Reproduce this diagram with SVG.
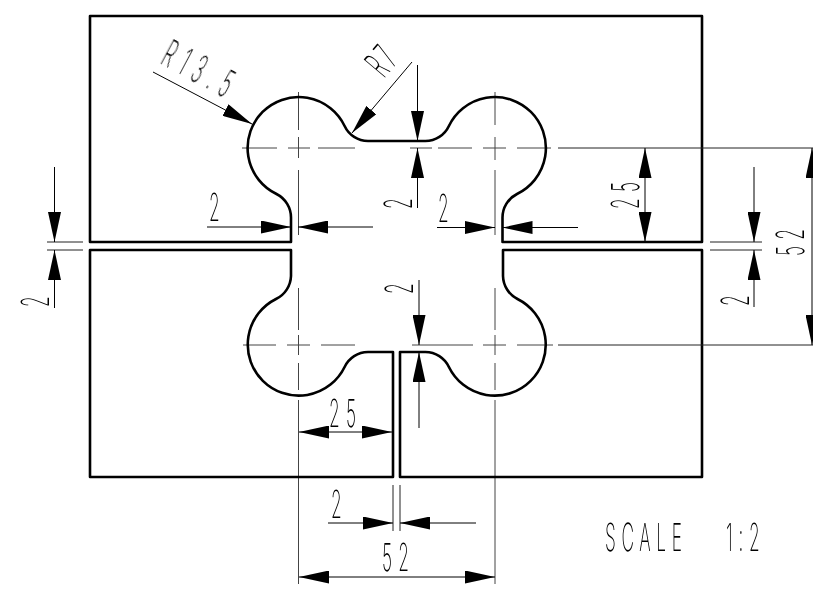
<svg xmlns="http://www.w3.org/2000/svg" width="813" height="592" viewBox="0 0 813 592">
<style>
.o{fill:none;stroke:#000;stroke-width:2.6;stroke-linejoin:round}
.c{fill:none;stroke:#444;stroke-width:1}
.d{fill:none;stroke:#000;stroke-width:1;marker-end:url(#a)}
.b{fill:none;stroke:#000;stroke-width:1;marker-start:url(#a);marker-end:url(#a)}
.e{fill:none;stroke:#222;stroke-width:1}
text{font-family:Inter,"Liberation Sans",sans-serif;font-weight:200;font-size:38.5px;fill:#000;letter-spacing:14px}
</style>
<defs>
<marker id="a" markerUnits="userSpaceOnUse" markerWidth="31" markerHeight="13" refX="30" refY="6.5" orient="auto-start-reverse"><path d="M0,0L30,6.5L0,13Z" fill="#000"/></marker>
</defs>
<g id="centerlines">
<path class="c" d="M242,148H277M288,148H310M318,148H355M410,148H432M438,148H472M483,148H506M517,148H551"/>
<path class="c" d="M243,345H276M287,345H310M321,345H355M412,345H473M483,345H506M517,345H553"/>
<path class="c" d="M298.500,92V130M298.500,137V158M298.500,170V235M298.500,288V330M298.500,335V355M298.500,363V390M298.500,400V584"/>
<path class="c" d="M495,92V125M495,137V160M495,170V235M495,288V330M495,335V355M495,363V390M495,400V584"/>
</g>
<g id="outline">
<path class="o" d="M291,242V218A26.500,26.500 0 0 0 276.500,194A51,51 0 1 1 344.600,126A26,26 0 0 0 368,141H425.400A26,26 0 0 0 448.900,126A51,51 0 1 1 517,194A26.500,26.500 0 0 0 502.500,218V242H702V16H90V242Z"/>
<path class="o" d="M90,250H291V276A26.500,26.500 0 0 1 276,299A51,51 0 1 0 344.600,367A26,26 0 0 1 368,352H393V477H90Z"/>
<path class="o" d="M400,477V352H425.400A26,26 0 0 1 448.900,367A51,51 0 1 0 517.500,299A26.500,26.500 0 0 1 503,276V250H702V477Z"/>
</g>
<g id="connectors">
<path class="e" d="M558,148H813M558,345H813M710,242H762M710,250H762M47,242H83M47,250H83M393,485V531M400,485V531"/>
<path class="d" d="M153,72L252,124"/>
<path class="d" d="M412,62L352,133"/>
<path class="d" d="M417.500,65V141"/>
<path class="d" d="M417.500,208V148"/>
<path class="d" d="M207,227H291"/>
<path class="d" d="M373,227H298"/>
<path class="d" d="M437,227.500H495"/>
<path class="d" d="M578,227.500H502.500"/>
<path class="b" d="M645,148V242"/>
<path class="d" d="M754,167V242"/>
<path class="d" d="M754,307V250"/>
<path class="b" d="M812,148V345"/>
<path class="d" d="M54.500,167V242"/>
<path class="d" d="M54.500,308V250"/>
<path class="d" d="M419,280V345"/>
<path class="d" d="M419,428V352"/>
<path class="b" d="M299,432H392"/>
<path class="d" d="M328,523H393"/>
<path class="d" d="M476,523H400"/>
<path class="b" d="M299,577H495"/>
</g>
<g id="labels" opacity="0.999">
<text transform="translate(159,63) rotate(28) scale(.45,1)" style="letter-spacing:18px">R13.5</text>
<text transform="translate(384,79) rotate(-50) scale(.45,1)" style="letter-spacing:8px">R7</text>
<text transform="translate(412,209) rotate(-90) scale(.45,1)">2</text>
<text transform="translate(209,221) scale(.45,1)">2</text>
<text transform="translate(438,222) scale(.45,1)">2</text>
<text transform="translate(639,209) rotate(-90) scale(.45,1)">25</text>
<text transform="translate(749,306) rotate(-90) scale(.45,1)">2</text>
<text transform="translate(803.500,256) rotate(-90) scale(.45,1)">52</text>
<text transform="translate(49,307) rotate(-90) scale(.45,1)">2</text>
<text transform="translate(413,294) rotate(-90) scale(.45,1)">2</text>
<text transform="translate(329,427) scale(.45,1)">25</text>
<text transform="translate(331,518) scale(.45,1)">2</text>
<text transform="translate(382,571) scale(.45,1)">52</text>
<text transform="translate(605,551) scale(.45,1)" style="letter-spacing:12.500px">SCALE <tspan dx="62" style="letter-spacing:13px">1:2</tspan></text>
</g>
</svg>
